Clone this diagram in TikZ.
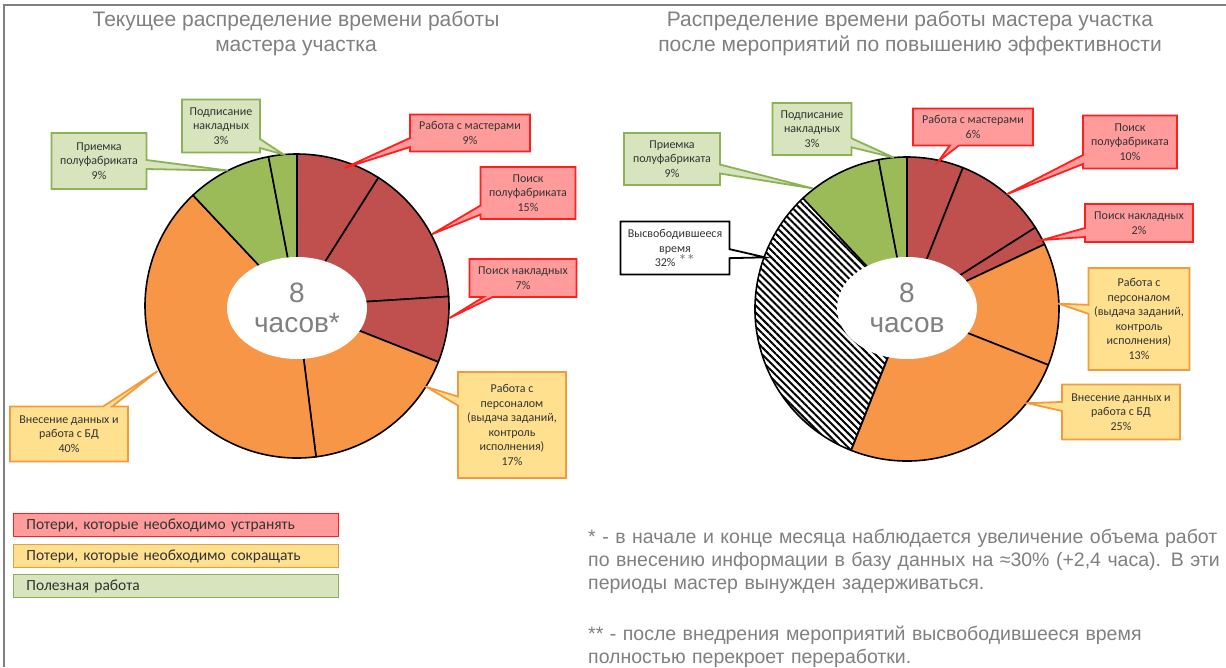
\documentclass[tikz,border=0pt]{standalone}
\usepackage{fontspec}
\setmainfont{Liberation Sans}
\newfontfamily\calibri{Carlito}
\usetikzlibrary{shapes.geometric,shapes.callouts,patterns.meta}

\definecolor{sliceRed}{HTML}{C0504D}
\definecolor{sliceOrange}{HTML}{F79646}
\definecolor{sliceGreen}{HTML}{9BBB59}
\definecolor{tagRed}{HTML}{FF9B9B}
\definecolor{edgeRed}{HTML}{FF1F1F}
\definecolor{tagOrange}{HTML}{FFE08F}
\definecolor{edgeOrange}{HTML}{F39A3E}
\definecolor{tagGreen}{HTML}{D7E4BD}
\definecolor{edgeGreen}{HTML}{8DB255}
\definecolor{textGray}{HTML}{808080}

\begin{document}
\begin{tikzpicture}[
    x=1pt, y=1pt,
    slice/.style={draw=black, line width=1.6pt, line join=round},
    sred/.style={fill=sliceRed},
    sorange/.style={fill=sliceOrange},
    sgreen/.style={fill=sliceGreen},
    shatch/.style={pattern={Lines[angle=-45, distance=5pt, line width=2pt]}},
    hole/.style={ellipse, fill=white, inner sep=0pt, minimum width=140pt, minimum height=102pt, align=center, text=textGray, font=\fontsize{28}{30}\selectfont},
    tag/.style={rectangle callout, line width=1.8pt, align=center, inner sep=2pt, callout pointer width=9pt, text=black!80, font=\calibri\fontsize{12}{14.5}\selectfont},
    redtag/.style={tag, fill=tagRed, draw=edgeRed},
    orangetag/.style={tag, fill=tagOrange, draw=edgeOrange},
    greentag/.style={tag, fill=tagGreen, draw=edgeGreen},
    freetag/.style={tag, fill=white, draw=black},
    legbox/.style={draw, line width=1.8pt, minimum height=23pt, text width=299pt, inner xsep=13pt, align=left, text=black!80, font=\calibri\fontsize{15.5}{17}\selectfont},
    title/.style={align=center, text=textGray, font=\fontsize{21}{25}\selectfont},
    note/.style={align=left, text width=700pt, inner sep=0pt, text=textGray, font=\fontsize{19.5}{23}\selectfont}
]
\fill[white] (0,0) rectangle (1226,-667);
\useasboundingbox (0,0) rectangle (1226,-667);

% frame
\draw[textGray, line width=2pt] (4,-667) -- (4,-5) -- (1226,-5);

% titles
\node[title] (ltitle) at (296,-33) {Текущее распределение времени работы\\мастера участка};
\node[title] (rtitle) at (910,-33) {Распределение времени работы мастера участка\\после мероприятий по повышению эффективности};

% current distribution
\coordinate (lc) at (297,-306);
\begin{scope}[shift={(lc)}]
\foreach \s/\e/\c in {90/57.6/sred, 57.6/3.6/sred, 3.6/-21.6/sred, -21.6/-82.8/sorange,
                       -82.8/-226.8/sorange, -226.8/-259.2/sgreen, -259.2/-270/sgreen}
  \draw[slice, \c] (0,0) -- (\s:152pt) arc[start angle=\s, end angle=\e, radius=152pt] -- cycle;
\end{scope}
\node[hole] (lhole) at (297,-308) {8\\часов*};

\path (lc) ++(71:146pt) coordinate (lmastp);
\path (lc) ++(28:153pt) coordinate (lsearchp);
\path (lc) ++(-4.5:153pt) coordinate (lwayp);
\path (lc) ++(-32:153pt) coordinate (lstaffp);
\path (lc) ++(205:154pt) coordinate (ldatap);
\path (lc) ++(117:152pt) coordinate (lrecvp);
\path (lc) ++(95:152pt) coordinate (lsignp);

\node[redtag, minimum width=120pt, minimum height=37pt, callout absolute pointer={(lmastp)}] (lmast) at (470,-133) {Работа с мастерами\\9\%};
\node[redtag, minimum width=95pt, minimum height=52pt, callout absolute pointer={(lsearchp)}] (lsearch) at (528,-193) {Поиск\\полуфабриката\\15\%};
\node[redtag, minimum width=107pt, minimum height=38pt, callout absolute pointer={(lwayp)}] (lway) at (523,-278) {Поиск накладных\\7\%};
\node[orangetag, minimum width=108pt, minimum height=106pt, callout absolute pointer={(lstaffp)}] (lstaff) at (512,-425) {Работа с\\персоналом\\(выдача заданий,\\контроль\\исполнения)\\17\%};
\node[orangetag, minimum width=118pt, minimum height=55pt, callout absolute pointer={(ldatap)}] (ldata) at (69,-434) {Внесение данных и\\работа с БД\\40\%};
\node[greentag, minimum width=95pt, minimum height=56pt, callout absolute pointer={(lrecvp)}] (lrecv) at (99,-161) {Приемка\\полуфабриката\\9\%};
\node[greentag, minimum width=78pt, minimum height=53pt, callout absolute pointer={(lsignp)}] (lsign) at (221,-126) {Подписание\\накладных\\3\%};

% after the measures
\coordinate (rc) at (907,-309);
\begin{scope}[shift={(rc)}]
\foreach \s/\e/\c in {90/68.4/sred, 68.4/32.4/sred, 32.4/25.2/sred, 25.2/-21.6/sorange,
                       -21.6/-111.6/sorange, -111.6/-226.8/shatch, -226.8/-259.2/sgreen, -259.2/-270/sgreen}
  \draw[slice, \c] (0,0) -- (\s:152pt) arc[start angle=\s, end angle=\e, radius=152pt] -- cycle;
\end{scope}
\node[hole] (rhole) at (907,-308) {8\\часов};

\path (rc) ++(78:151pt) coordinate (rmastp);
\path (rc) ++(49:152pt) coordinate (rsearchp);
\path (rc) ++(27:152pt) coordinate (rwayp);
\path (rc) ++(2:152pt) coordinate (rstaffp);
\path (rc) ++(-38:153pt) coordinate (rdatap);
\path (rc) ++(160:151pt) coordinate (rfreep);
\path (rc) ++(128:153pt) coordinate (rrecvp);
\path (rc) ++(95:152pt) coordinate (rsignp);

\node[redtag, minimum width=120pt, minimum height=37pt, callout absolute pointer={(rmastp)}] (rmast) at (973,-127) {Работа с мастерами\\6\%};
\node[redtag, minimum width=94pt, minimum height=53pt, callout absolute pointer={(rsearchp)}] (rsearch) at (1130,-142) {Поиск\\полуфабриката\\10\%};
\node[redtag, minimum width=108pt, minimum height=38pt, callout absolute pointer={(rwayp)}] (rway) at (1139,-223) {Поиск накладных\\2\%};
\node[orangetag, minimum width=101pt, minimum height=102pt, callout absolute pointer={(rstaffp)}] (rstaff) at (1139,-319) {Работа с\\персоналом\\(выдача заданий,\\контроль\\исполнения)\\13\%};
\node[orangetag, minimum width=118pt, minimum height=55pt, callout absolute pointer={(rdatap)}] (rdata) at (1121,-412) {Внесение данных и\\работа с БД\\25\%};
\node[freetag, minimum width=109pt, minimum height=53pt, callout absolute pointer={(rfreep)}] (rfree) at (675,-248) {Высвободившееся\\время\\32\% {\color{textGray}\fontsize{17}{14.5}\selectfont **}};
\node[greentag, minimum width=96pt, minimum height=52pt, callout absolute pointer={(rrecvp)}] (rrecv) at (672,-159) {Приемка\\полуфабриката\\9\%};
\node[greentag, minimum width=79pt, minimum height=52pt, callout absolute pointer={(rsignp)}] (rsign) at (812,-129) {Подписание\\накладных\\3\%};

% legend
\node[legbox, fill=tagRed, draw=edgeRed] (legred) at (176,-525) {Потери, которые необходимо устранять};
\node[legbox, fill=tagOrange, draw=edgeOrange] (legorange) at (176,-556) {Потери, которые необходимо сокращать};
\node[legbox, fill=tagGreen, draw=edgeGreen] (leggreen) at (176,-586) {Полезная работа};

% footnotes
\node[note, anchor=base west] (notes) at (588,-543) {* - в начале и конце месяца наблюдается увеличение объема работ\\
по внесению информации в базу данных на ≈30\% (+2,4 часа). В эти\\
периоды мастер вынужден задерживаться.\\[28pt]
** - после внедрения мероприятий высвободившееся время\\
полностью перекроет переработки.};
\end{tikzpicture}
\end{document}
